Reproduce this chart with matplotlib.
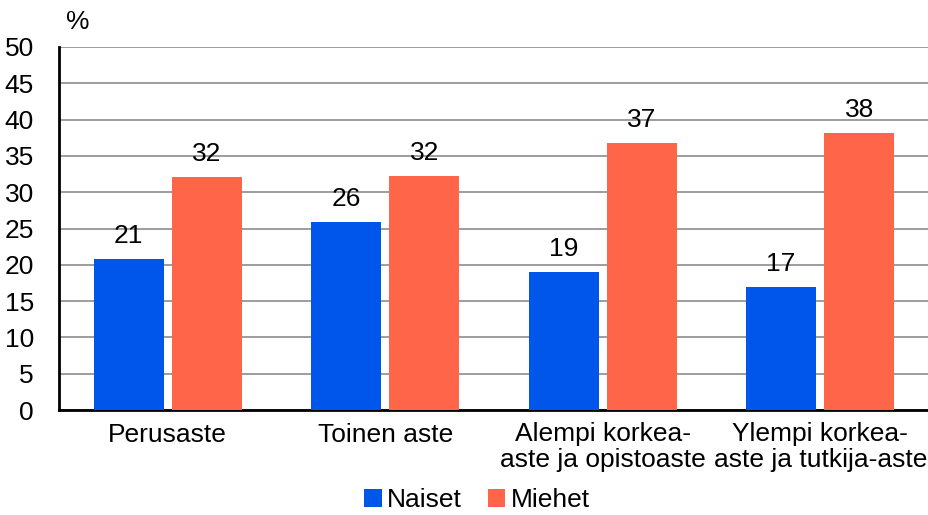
import numpy as np
import matplotlib
matplotlib.use('Agg')
import matplotlib.pyplot as plt

plt.rcParams['font.family'] = ['Liberation Sans', 'DejaVu Sans']

# Data
categories = ['Perusaste', 'Toinen aste', 'Alempi korkea-\naste ja opistoaste',
              'Ylempi korkea-\naste ja tutkija-aste']
naiset = [20.8, 25.9, 19.0, 16.9]
miehet = [32.1, 32.2, 36.8, 38.1]
naiset_lbl = ['21', '26', '19', '17']
miehet_lbl = ['32', '32', '37', '38']
yticks = [0, 5, 10, 15, 20, 25, 30, 35, 40, 45, 50]

blue = '#0055EA'
coral = '#FF6548'
fs = 19

fig = plt.figure(figsize=(9.29, 5.15), dpi=100)
ax = fig.add_axes([59 / 929, 1 - 410 / 515, 870 / 929, 363 / 515])

x = np.arange(len(categories))
w = 0.322
off = 0.18
b1 = ax.bar(x - off, naiset, w, color=blue, label='Naiset', zorder=3)
b2 = ax.bar(x + off, miehet, w, color=coral, label='Miehet', zorder=3)

for bars, labels in ((b1, naiset_lbl), (b2, miehet_lbl)):
    for bar, lbl in zip(bars, labels):
        ax.annotate(lbl, (bar.get_x() + bar.get_width() / 2, bar.get_height()),
                    xytext=(0, 8), textcoords='offset points',
                    ha='center', va='bottom', fontsize=fs)

ax.set_xlim(-0.5, len(categories) - 0.5)
ax.set_ylim(0, 50)
ax.set_yticks(yticks)
ax.set_xticks(x)
ax.set_xticklabels(categories, fontsize=fs, linespacing=1.1)
ax.tick_params(axis='y', labelsize=fs, length=0, pad=18)
ax.tick_params(axis='x', length=0, pad=9)
ax.grid(axis='y', color='#8c8c8c', linewidth=1.2, zorder=0)
ax.spines['top'].set_visible(False)
ax.spines['right'].set_visible(False)
ax.spines['left'].set_linewidth(2)
ax.spines['bottom'].set_linewidth(2)

fig.text(78 / 929, 1 - 22 / 515, '%', fontsize=fs, ha='center', va='center')

fig.legend(loc='center', bbox_to_anchor=(477 / 929, 1 - 500 / 515), ncol=2,
           frameon=False, fontsize=fs, handlelength=0.65, handleheight=0.65,
           handletextpad=0.2, columnspacing=1.0, borderpad=0.2)

fig.savefig('out.png', dpi=100)
